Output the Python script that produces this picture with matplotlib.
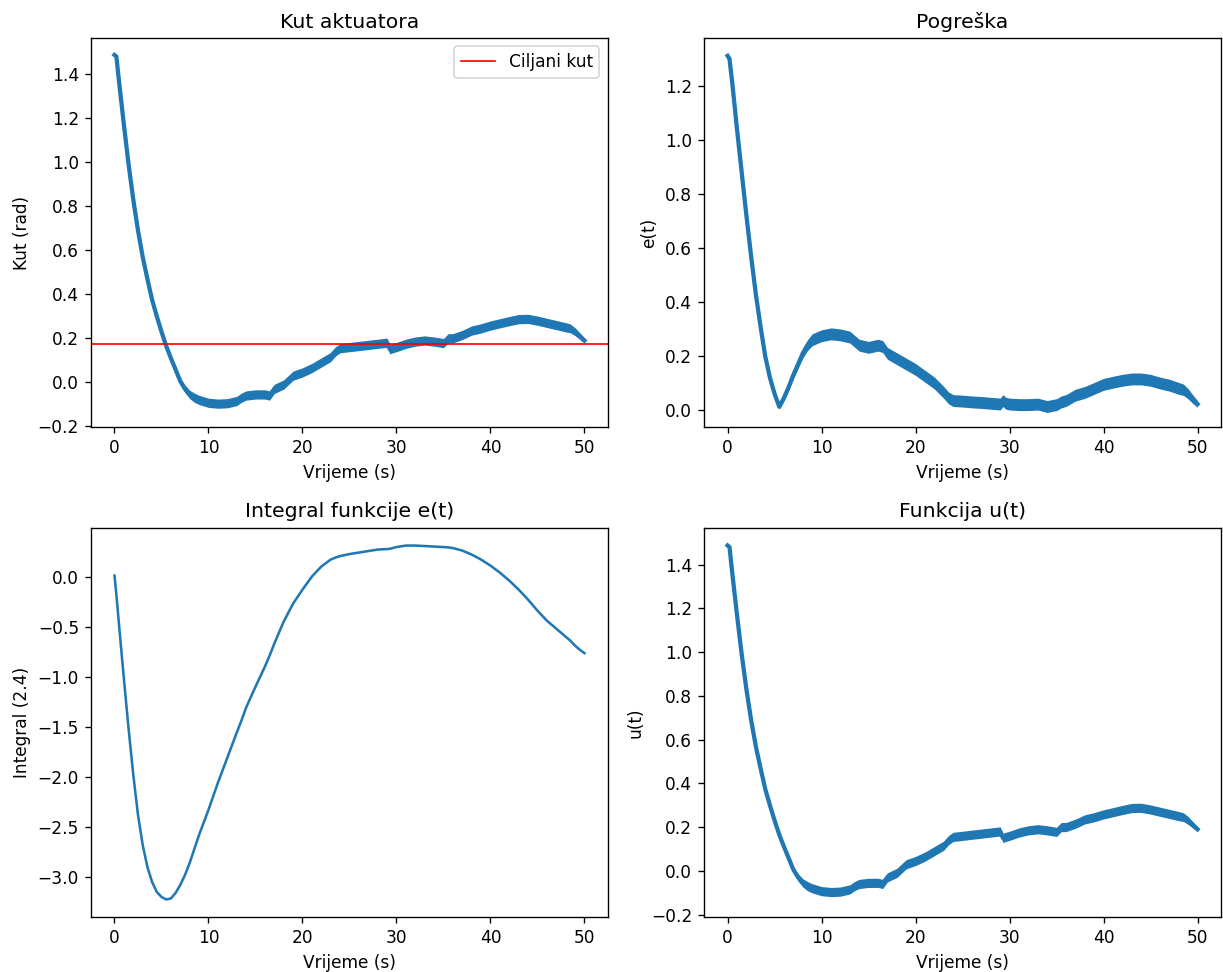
import numpy as np
import matplotlib
matplotlib.use('Agg')
import matplotlib.pyplot as plt

# vrijeme (s)
t = [0, 0.2, 0.5, 1, 1.5, 2, 2.5, 3, 3.5, 4,
     4.5, 5, 5.5, 6, 6.5, 7, 7.5, 8, 8.5, 9,
     10, 11, 12, 13, 13.5, 14, 15, 16, 16.5, 17,
     18, 19, 20, 21, 22, 23, 23.5, 24, 25, 26,
     27, 28, 29, 29.3, 29.6, 30, 31, 32, 33, 34,
     35, 35.5, 36, 37, 38, 39, 40, 41, 42, 43,
     44, 45, 46, 47, 48, 48.5, 49, 49.5, 50]

ciljani_kut = 0.1745

# kut aktuatora (rad)
kut = [1.487, 1.48, 1.36, 1.17, 0.99, 0.83, 0.69, 0.57, 0.47, 0.375,
       0.3, 0.23, 0.165, 0.11, 0.058, 0.005, -0.03, -0.055, -0.07, -0.08,
       -0.093, -0.097, -0.095, -0.085, -0.07, -0.06, -0.055, -0.055, -0.06, -0.03,
       -0.01, 0.03, 0.045, 0.065, 0.09, 0.115, 0.14, 0.155, 0.16, 0.165,
       0.17, 0.175, 0.18, 0.15, 0.155, 0.16, 0.175, 0.185, 0.19, 0.185,
       0.178, 0.2, 0.2, 0.215, 0.235, 0.245, 0.258, 0.268, 0.278, 0.287,
       0.288, 0.28, 0.27, 0.26, 0.25, 0.245, 0.23, 0.21, 0.19]

# sirina suma oko kuta
kut_sum = [0.003, 0.003, 0.003, 0.003, 0.003, 0.003, 0.003, 0.003, 0.003, 0.004,
           0.005, 0.007, 0.009, 0.011, 0.013, 0.015, 0.017, 0.019, 0.021, 0.021,
           0.021, 0.021, 0.021, 0.021, 0.021, 0.021, 0.021, 0.021, 0.021, 0.021,
           0.021, 0.021, 0.021, 0.021, 0.021, 0.021, 0.021, 0.021, 0.021, 0.021,
           0.021, 0.021, 0.021, 0.021, 0.021, 0.021, 0.021, 0.021, 0.021, 0.021,
           0.021, 0.021, 0.021, 0.021, 0.021, 0.021, 0.021, 0.021, 0.021, 0.021,
           0.021, 0.021, 0.021, 0.021, 0.021, 0.02, 0.018, 0.015, 0.011]

# pogreska e(t)
e = [1.311, 1.30, 1.21, 1.04, 0.88, 0.72, 0.57, 0.43, 0.31, 0.2,
     0.12, 0.06, 0.012, 0.045, 0.085, 0.13, 0.17, 0.21, 0.24, 0.26,
     0.275, 0.282, 0.278, 0.27, 0.255, 0.24, 0.232, 0.24, 0.235, 0.21,
     0.19, 0.17, 0.15, 0.125, 0.1, 0.065, 0.045, 0.035, 0.033, 0.03,
     0.028, 0.025, 0.022, 0.035, 0.025, 0.022, 0.02, 0.02, 0.022, 0.013,
     0.02, 0.03, 0.035, 0.055, 0.065, 0.08, 0.095, 0.103, 0.11, 0.115,
     0.115, 0.11, 0.1, 0.092, 0.08, 0.075, 0.06, 0.04, 0.022]

e_sum = [0.002, 0.002, 0.002, 0.002, 0.002, 0.002, 0.002, 0.002, 0.002, 0.003,
         0.004, 0.006, 0.008, 0.01, 0.012, 0.014, 0.016, 0.018, 0.02, 0.022,
         0.022, 0.022, 0.022, 0.022, 0.022, 0.022, 0.022, 0.022, 0.022, 0.022,
         0.022, 0.022, 0.022, 0.022, 0.022, 0.022, 0.022, 0.022, 0.022, 0.022,
         0.022, 0.022, 0.022, 0.022, 0.022, 0.022, 0.022, 0.022, 0.022, 0.022,
         0.022, 0.022, 0.022, 0.022, 0.022, 0.022, 0.022, 0.022, 0.022, 0.022,
         0.022, 0.022, 0.022, 0.022, 0.022, 0.021, 0.019, 0.016, 0.012]

# integral (2.4)
integral = [0.01, -0.18, -0.5, -1.02, -1.52, -1.98, -2.38, -2.68, -2.9, -3.05,
            -3.15, -3.2, -3.225, -3.215, -3.16, -3.08, -2.98, -2.86, -2.72, -2.58,
            -2.33, -2.06, -1.81, -1.56, -1.44, -1.31, -1.1, -0.9, -0.79, -0.67,
            -0.45, -0.27, -0.13, 0.0, 0.1, 0.17, 0.19, 0.205, 0.225, 0.24,
            0.255, 0.27, 0.275, 0.278, 0.285, 0.295, 0.31, 0.31, 0.305, 0.3,
            0.295, 0.292, 0.285, 0.26, 0.22, 0.17, 0.11, 0.04, -0.04, -0.13,
            -0.23, -0.34, -0.44, -0.52, -0.6, -0.64, -0.69, -0.73, -0.765]

# upravljacki signal u(t)
u = [1.487, 1.48, 1.36, 1.17, 0.99, 0.83, 0.69, 0.57, 0.47, 0.375,
     0.3, 0.23, 0.165, 0.11, 0.058, 0.005, -0.03, -0.055, -0.07, -0.08,
     -0.093, -0.097, -0.095, -0.085, -0.07, -0.06, -0.055, -0.055, -0.06, -0.03,
     -0.01, 0.03, 0.045, 0.065, 0.09, 0.115, 0.14, 0.155, 0.16, 0.165,
     0.17, 0.175, 0.18, 0.15, 0.155, 0.16, 0.175, 0.185, 0.19, 0.185,
     0.178, 0.2, 0.2, 0.215, 0.235, 0.245, 0.258, 0.268, 0.278, 0.287,
     0.288, 0.28, 0.27, 0.26, 0.25, 0.245, 0.23, 0.21, 0.19]
u_sum = kut_sum

t = np.array(t)

fig, axs = plt.subplots(2, 2, figsize=(1223 / 122.3, 972 / 122.3), dpi=122.3)
plt.subplots_adjust(left=0.0744, right=0.9984, top=0.9609, bottom=0.0566,
                    wspace=0.186, hspace=0.257)

def sumna_linija(ax, y, s):
    y = np.array(y)
    s = np.array(s)
    ax.fill_between(t, y - s, y + s, color='C0', linewidth=0)
    ax.plot(t, y, color='C0', linewidth=2.5)

ax = axs[0, 0]
sumna_linija(ax, kut, kut_sum)
ax.axhline(ciljani_kut, color='r', linewidth=1, label='Ciljani kut')
ax.set_ylim(-0.205, 1.564)
ax.set_title('Kut aktuatora')
ax.set_xlabel('Vrijeme (s)')
ax.set_ylabel('Kut (rad)')
ax.legend(loc='upper right')

ax = axs[0, 1]
sumna_linija(ax, e, e_sum)
ax.set_ylim(-0.0645, 1.377)
ax.set_title('Pogreška')
ax.set_xlabel('Vrijeme (s)')
ax.set_ylabel('e(t)')

ax = axs[1, 0]
ax.plot(t, integral, color='C0')
ax.set_ylim(-3.40, 0.49)
ax.set_title('Integral funkcije e(t)')
ax.set_xlabel('Vrijeme (s)')
ax.set_ylabel('Integral (2.4)')

ax = axs[1, 1]
sumna_linija(ax, u, u_sum)
ax.set_ylim(-0.211, 1.569)
ax.set_title('Funkcija u(t)')
ax.set_xlabel('Vrijeme (s)')
ax.set_ylabel('u(t)')

for ax in axs.flat:
    ax.set_xlim(-2.5, 52.5)

plt.savefig('out.png', dpi=122.3)
